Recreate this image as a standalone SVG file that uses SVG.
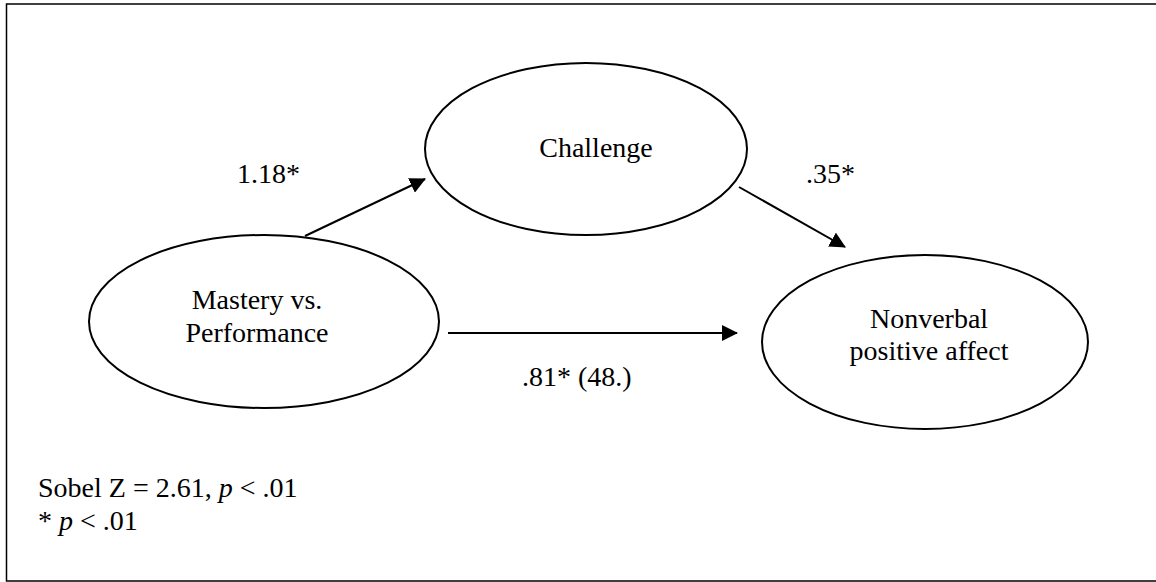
<svg xmlns="http://www.w3.org/2000/svg" width="1156" height="582" viewBox="0 0 1156 582">
<defs>
<style>
text{font-family:"Liberation Serif","Times New Roman",serif;font-size:28px;fill:#000}
.node{fill:#fff;stroke:#000;stroke-width:2}
.edge{stroke:#000;stroke-width:2;fill:none}
.c{text-anchor:middle}
</style>
<marker id="ah" markerWidth="16" markerHeight="16" viewBox="0 0 16 16" refX="15" refY="8" orient="auto" markerUnits="userSpaceOnUse">
<path d="M0,0 L16,8 L0,16 Z" fill="#000"/>
</marker>
</defs>
<rect x="0" y="0" width="1156" height="582" fill="#fff"/>
<rect x="6.5" y="4" width="1170" height="577" fill="none" stroke="#000" stroke-width="1.5"/>
<g id="connectors">
<line class="edge" x1="305" y1="236" x2="425" y2="179" marker-end="url(#ah)"/>
<line class="edge" x1="739" y1="187" x2="845" y2="247" marker-end="url(#ah)"/>
<line class="edge" x1="448" y1="333" x2="737" y2="333" marker-end="url(#ah)"/>
</g>
<g id="node-mastery">
<ellipse class="node" cx="264" cy="321.5" rx="175" ry="86.5"/>
<text class="c" x="257" y="309">Mastery vs.</text>
<text class="c" x="257" y="342">Performance</text>
</g>
<g id="node-challenge">
<ellipse class="node" cx="586" cy="149" rx="161" ry="86"/>
<text class="c" x="596" y="157">Challenge</text>
</g>
<g id="node-nonverbal">
<ellipse class="node" cx="925" cy="342" rx="163" ry="87"/>
<text class="c" x="929" y="328">Nonverbal</text>
<text class="c" x="929" y="360">positive affect</text>
</g>
<g id="labels">
<text x="237" y="183">1.18*</text>
<text x="806" y="183">.35*</text>
<text x="522" y="386">.81* (48.)</text>
<text x="38" y="497">Sobel Z = 2.61, <tspan font-style="italic">p</tspan> &lt; .01</text>
<text x="38" y="530">* <tspan font-style="italic">p</tspan> &lt; .01</text>
</g>
</svg>
